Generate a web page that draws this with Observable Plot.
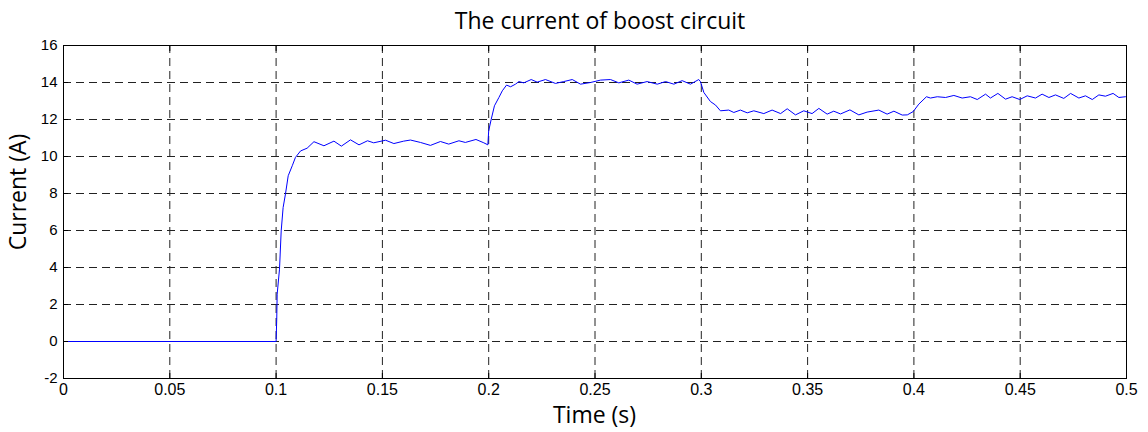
<!DOCTYPE html>
<html>
<head>
<meta charset="utf-8">
<script src="https://cdn.jsdelivr.net/npm/d3@7"></script>
<script src="https://cdn.jsdelivr.net/npm/@observablehq/plot@0.6"></script>
<style>
  html, body { margin: 0; padding: 0; background: #fff; }
  #wrap { position: relative; width: 1148px; height: 432px; }
  #wrap svg { display: block; }
  .lbl { position: absolute; font-family: "Open Sans", sans-serif; font-size: 23px; line-height: 23px; color: #000; white-space: nowrap; }
</style>
</head>
<body>
<div id="wrap"></div>
<script>
const titleText = "The current of boost circuit";
const xLabel = "Time (s)";
const yLabel = "Current (A)";
const xTicks = [0, 0.05, 0.1, 0.15, 0.2, 0.25, 0.3, 0.35, 0.4, 0.45, 0.5];
const yTicks = [-2, 0, 2, 4, 6, 8, 10, 12, 14, 16];

const time = [0, 0.1, 0.1003, 0.1005, 0.1016, 0.1024, 0.1033, 0.1044, 0.1057, 0.1076, 0.1091, 0.1115, 0.1146, 0.1178,
  0.1225, 0.1272, 0.1307, 0.135, 0.139, 0.143, 0.1459, 0.1515, 0.1554, 0.16, 0.1632, 0.1679, 0.1726, 0.1773, 0.1812,
  0.186, 0.189, 0.194, 0.1977, 0.1996, 0.2, 0.2012, 0.2027, 0.2048, 0.2064, 0.2084, 0.2103, 0.2126, 0.2142, 0.2165,
  0.22, 0.2228, 0.2267, 0.2314, 0.2353, 0.2393, 0.2432, 0.2479, 0.2526, 0.2573, 0.2612, 0.2659, 0.2698, 0.2745,
  0.2793, 0.2832, 0.2871, 0.291, 0.2949, 0.2988, 0.2996, 0.3012, 0.3043, 0.3067, 0.309, 0.3129, 0.3153, 0.3184,
  0.3216, 0.3247, 0.3294, 0.3333, 0.3373, 0.3404, 0.3443, 0.3482, 0.3521, 0.3553, 0.3592, 0.3623, 0.3655, 0.3699,
  0.3741, 0.378, 0.3835, 0.3874, 0.3906, 0.3945, 0.3969, 0.3997, 0.4023, 0.4059, 0.4078, 0.411, 0.4149, 0.4188,
  0.4227, 0.4266, 0.4298, 0.4337, 0.436, 0.4395, 0.4431, 0.4462, 0.4498, 0.4533, 0.4572, 0.4603, 0.4635, 0.4666,
  0.4705, 0.4737, 0.4776, 0.4807, 0.4839, 0.487, 0.4901, 0.4937, 0.4964, 0.4995];
const current = [0, 0, 1.21, 2.56, 3.91, 5.98, 7.24, 7.97, 8.96, 9.5, 9.95, 10.3, 10.45, 10.8,
  10.58, 10.83, 10.56, 10.9, 10.63, 10.85, 10.74, 10.88, 10.7, 10.83, 10.89, 10.76, 10.6, 10.81, 10.67,
  10.85, 10.76, 10.92, 10.74, 10.63, 11.39, 12.02, 12.74, 13.19, 13.55, 13.86, 13.77, 13.91, 14.05, 13.98,
  14.16, 14.02, 14.16, 13.95, 14.05, 14.16, 13.91, 14.0, 14.13, 14.16, 13.98, 14.13, 13.91, 14.05,
  13.91, 14.05, 13.91, 14.1, 13.91, 14.16, 14.05, 13.46, 12.97, 12.78, 12.47, 12.51, 12.38, 12.51,
  12.36, 12.47, 12.32, 12.51, 12.32, 12.58, 12.25, 12.47, 12.32, 12.6, 12.29, 12.45, 12.3, 12.52,
  12.25, 12.4, 12.51, 12.29, 12.45, 12.24, 12.25, 12.43, 12.83, 13.23, 13.16, 13.23, 13.19, 13.3,
  13.16, 13.23, 13.08, 13.37, 13.16, 13.41, 13.1, 13.23, 13.08, 13.28, 13.16, 13.37, 13.19, 13.33,
  13.14, 13.41, 13.16, 13.28, 13.08, 13.33, 13.26, 13.41, 13.19, 13.23];

const data = time.map((t, i) => ({t, i: current[i]}));

const plot = Plot.plot({
  width: 1148,
  height: 432,
  marginLeft: 63,
  marginRight: 22,
  marginTop: 45,
  marginBottom: 54,
  style: {fontFamily: "'Liberation Sans', Arial, sans-serif", fontSize: "15px", color: "#000", background: "#fff"},
  x: {domain: [0, 0.5]},
  y: {domain: [-2, 16]},
  marks: [
    Plot.ruleX(xTicks.slice(1, -1), {stroke: "#222", strokeWidth: 1, strokeDasharray: "8,5"}),
    Plot.ruleY(yTicks.slice(1, -1), {stroke: "#222", strokeWidth: 1, strokeDasharray: "8,5"}),
    Plot.line(data, {x: "t", y: "i", stroke: "#0000ff", strokeWidth: 1}),
    Plot.frame({stroke: "#000", strokeWidth: 1}),
    Plot.axisX(xTicks, {tickSize: 0, tickPadding: 5, tickFormat: d => String(d), label: null, fontSize: 16}),
    Plot.axisY(yTicks, {tickSize: 0, tickPadding: 6, tickFormat: d => String(d), label: null, fontSize: 15}),
    Plot.axisX(xTicks, {anchor: "bottom", tickSize: -5, text: null, label: null}),
    Plot.axisX(xTicks, {anchor: "top", tickSize: -5, text: null, label: null}),
    Plot.axisY(yTicks, {anchor: "left", tickSize: -5, text: null, label: null}),
    Plot.axisY(yTicks, {anchor: "right", tickSize: -5, text: null, label: null})
  ]
});

const wrap = document.getElementById("wrap");
wrap.appendChild(plot);

function addLabel(text, css) {
  const d = document.createElement("div");
  d.className = "lbl";
  d.textContent = text;
  d.style.cssText += css;
  wrap.appendChild(d);
  return d;
}
// baseline sits ~20.4px below the top of a 23px line box
addLabel(titleText, "left:600px;top:8.5px;transform:translateX(-50%);");
addLabel(xLabel, "left:594.5px;top:402.5px;transform:translateX(-50%);");
addLabel(yLabel, "left:17px;top:191.5px;transform:translate(-50%,-50%) rotate(-90deg);");
</script>
</body>
</html>
